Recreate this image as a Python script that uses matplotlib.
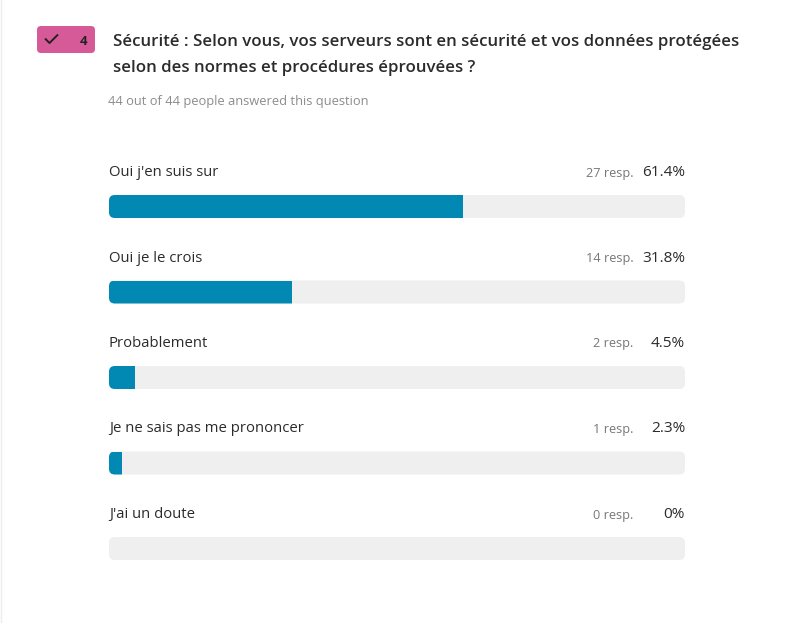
import matplotlib
matplotlib.use('Agg')
import matplotlib.pyplot as plt
from matplotlib.patches import FancyBboxPatch

plt.rcParams['font.family'] = ['Open Sans', 'Noto Sans', 'DejaVu Sans']

# Donnees
reponses = ["Oui j'en suis sur", "Oui je le crois", "Probablement",
            "Je ne sais pas me prononcer", "J'ai un doute"]
nb_resp = [27, 14, 2, 1, 0]
pourcents = [61.4, 31.8, 4.5, 2.3, 0]
pourcents_txt = ["61.4%", "31.8%", "4.5%", "2.3%", "0%"]

titre_l1 = "Sécurité : Selon vous, vos serveurs sont en sécurité et vos données protégées"
titre_l2 = "selon des normes et procédures éprouvées ?"
sous_titre = "44 out of 44 people answered this question"

W, H = 790, 623
BLEU = '#0289b3'
GRIS = '#efefef'
ROSE = '#d65a98'
NOIR = '#2b2b2b'

fig = plt.figure(figsize=(W/100, H/100), dpi=100, facecolor='white')

# Axe en pixels pour le texte et le badge
px = fig.add_axes([0, 0, 1, 1])
px.set_xlim(0, W)
px.set_ylim(H, 0)
px.axis('off')

# Axe des barres : x en pourcent, une ligne par reponse
PAS = 85.5
y0_px = 206.5
ax = fig.add_axes([109/W, 1 - (y0_px + 4.5*PAS)/H, 576/W, 5*PAS/H])
ax.set_xlim(0, 100)
ax.set_ylim(4.5, -0.5)
ax.axis('off')
ax.patch.set_alpha(0)

hauteur = 23/PAS
aspect = (100/576) / (1/PAS)
for i, p in enumerate(pourcents):
    # rounding_size en unites de x, mutation_aspect corrige y
    fond = FancyBboxPatch((0, i - hauteur/2), 100, hauteur,
                          boxstyle='round,pad=0,rounding_size=1.0',
                          mutation_aspect=1/aspect,
                          fc=GRIS, ec='none', zorder=1)
    ax.add_patch(fond)
    if p > 0:
        barre = ax.barh(i, p, height=hauteur, color=BLEU, zorder=2)
        barre[0].set_clip_path(fond)

    y_txt = 172.5 + i*PAS
    px.text(109, y_txt, reponses[i], fontsize=10.7, color=NOIR, va='center', ha='left')
    px.text(685, y_txt, pourcents_txt[i], fontsize=11.1, color=NOIR, va='center', ha='right')
    px.text(633.5, y_txt + 0.5, f"{nb_resp[i]} resp.", fontsize=9.2, color='#777777', va='center', ha='right')

# Titre et sous-titre
px.text(113, 41.5, titre_l1, fontsize=12.13, fontweight='semibold', color=NOIR, va='center', ha='left')
px.text(113, 68.5, titre_l2, fontsize=12.13, fontweight='semibold', color=NOIR, va='center', ha='left')
px.text(108, 101.5, sous_titre, fontsize=9.25, color='#8c8c8c', va='center', ha='left')

# Badge
px.add_patch(FancyBboxPatch((37, 26), 58, 27, boxstyle='round,pad=0,rounding_size=4',
                            fc=ROSE, ec='none'))
px.plot([45, 49.5, 58], [38.5, 43, 34.5], color='#222222', lw=1.4, solid_capstyle='butt')
px.text(84, 41.5, "4", fontsize=9.5, fontweight='bold', color='#222222', va='center', ha='center')

# Bord gauche de la carte
px.plot([0.5, 0.5], [0, H], color='#ececec', lw=1)

fig.savefig('out.png', dpi=100)
